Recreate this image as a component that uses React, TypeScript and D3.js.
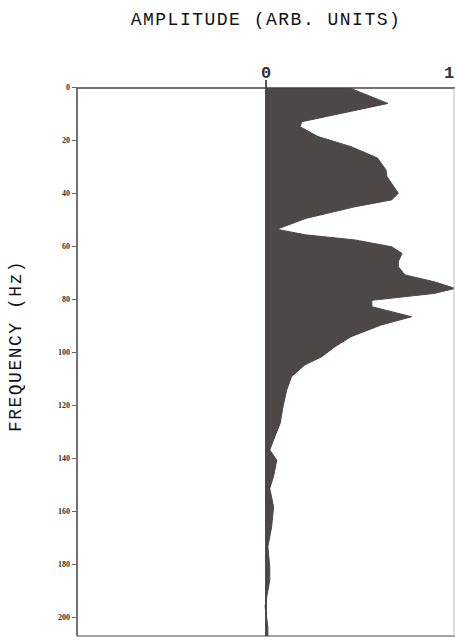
import React, { useEffect, useRef } from 'react';
import * as d3 from 'd3';

// frequency (Hz) and amplitude (arb. units)
const frequency = [
  0, 6.2, 13.1, 15, 18.7, 22.5, 26.8, 31.3, 33.8, 36.4, 40.1, 42.6, 45.2, 49.6, 53.7,
  55.8, 57.7, 60.3, 62.8, 65.9, 67.8, 70.9, 73.5, 76, 77.9, 80.5, 81, 82.9, 86.7, 89.8,
  94.2, 98, 101.8, 104.9, 109.3, 114.3, 120.6, 126.9, 133.2, 137, 140.8, 147, 151.4,
  158.4, 165.9, 173.5, 181, 186, 196, 203.7, 207
];
const amplitude = [
  0.43, 0.645, 0.19, 0.18, 0.275, 0.45, 0.59, 0.635, 0.64, 0.665, 0.7, 0.665, 0.47, 0.21, 0.057,
  0.21, 0.47, 0.665, 0.72, 0.7, 0.7, 0.735, 0.89, 1.0, 0.89, 0.56, 0.56, 0.56, 0.77, 0.61,
  0.45, 0.365, 0.295, 0.205, 0.135, 0.11, 0.09, 0.075, 0.04, 0.02, 0.057, 0.04, 0.02,
  0.04, 0.03, 0.01, 0.02, 0.02, -0.005, 0.01, 0.01
];
const freqTicks = [0, 20, 40, 60, 80, 100, 120, 140, 160, 180, 200];
const ampTicks = [0, 1];

const App: React.FC = () => {
  const svgRef = useRef<SVGSVGElement>(null);

  useEffect(() => {
    if (!svgRef.current) return;
    const width = 455;
    const height = 641;
    const left = 77, top = 88, bottom = 636, right = 454;

    d3.select(svgRef.current).selectAll("*").remove();
    const svg = d3.select(svgRef.current)
      .attr("width", width)
      .attr("height", height)
      .style("background", "#fff");

    const x = d3.scaleLinear().domain([-1, 1]).range([left, 455]);
    const y = d3.scaleLinear().domain([0, 200]).range([87, 617]);

    svg.append("defs").append("clipPath").attr("id", "plotClip")
      .append("rect")
      .attr("x", left).attr("y", top)
      .attr("width", right - left).attr("height", bottom - top);

    const data = frequency.map((f, i) => ({ f, a: amplitude[i] }));
    const area = d3.area<{ f: number; a: number }>()
      .y(d => y(d.f))
      .x0(x(0))
      .x1(d => x(d.a))
      .curve(d3.curveLinear);

    svg.append("path")
      .datum(data)
      .attr("clip-path", "url(#plotClip)")
      .attr("d", area)
      .attr("fill", "#4d4846")
      .attr("stroke", "#4d4846")
      .attr("stroke-width", 1);

    // frame
    const frame = svg.append("g").attr("stroke", "#444").attr("fill", "none");
    frame.append("line").attr("x1", left).attr("x2", 455).attr("y1", top).attr("y2", top).attr("stroke-width", 1.5);
    frame.append("line").attr("x1", left).attr("x2", left).attr("y1", top).attr("y2", bottom).attr("stroke-width", 1.5);
    frame.append("line").attr("x1", left).attr("x2", 455).attr("y1", bottom).attr("y2", bottom).attr("stroke-width", 1);
    frame.append("line").attr("x1", right).attr("x2", right).attr("y1", top).attr("y2", bottom).attr("stroke", "#bbb");
    // zero line
    frame.append("line").attr("x1", x(0)).attr("x2", x(0)).attr("y1", top - 8).attr("y2", bottom).attr("stroke-width", 1.8);

    // left axis
    svg.append("g")
      .attr("transform", `translate(${left},0)`)
      .call(d3.axisLeft(y).tickValues(freqTicks).tickSize(5).tickPadding(2).tickFormat(d3.format("d")))
      .call(g => g.select(".domain").remove())
      .call(g => g.selectAll("line").attr("stroke", "#666"))
      .call(g => g.selectAll("text")
        .attr("fill", "#333")
        .style("font-family", "'Liberation Serif', serif")
        .style("font-weight", "bold")
        .style("font-size", "8px"));

    // top amplitude labels (the "1" sits at the right edge)
    svg.append("g")
      .selectAll("text")
      .data(ampTicks)
      .enter()
      .append("text")
      .attr("x", d => Math.min(x(d), 449))
      .attr("y", 78)
      .attr("text-anchor", "middle")
      .attr("fill", "#333")
      .style("font-family", "'Liberation Mono', monospace")
      .style("font-weight", "bold")
      .style("font-size", "17px")
      .text(d => d);

    svg.append("text")
      .attr("x", 266)
      .attr("y", 25)
      .attr("text-anchor", "middle")
      .attr("fill", "#111")
      .style("font-family", "'Liberation Mono', monospace")
      .style("font-size", "18px")
      .style("letter-spacing", "1.5px")
      .text("AMPLITUDE (ARB. UNITS)");

    svg.append("text")
      .attr("transform", "translate(21,346) rotate(-90)")
      .attr("text-anchor", "middle")
      .attr("fill", "#111")
      .style("font-family", "'Liberation Mono', monospace")
      .style("font-size", "18px")
      .style("letter-spacing", "1.5px")
      .text("FREQUENCY (Hz)");
  }, []);

  return <svg ref={svgRef} style={{ position: 'absolute', left: 0, top: 0, display: 'block' }} />;
};

export default App;
